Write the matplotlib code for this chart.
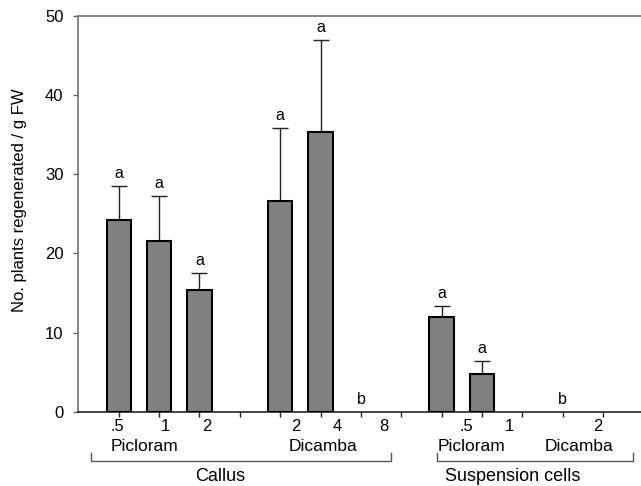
import matplotlib
matplotlib.use('Agg')
import matplotlib.pyplot as plt
import matplotlib.transforms as mtransforms

plt.rcParams['font.family'] = ['Liberation Sans', 'DejaVu Sans']

# bar slots along the x axis (one tick per slot)
slots = [1, 2, 3, 5, 6, 7, 9, 10, 12]
means = [24.2, 21.6, 15.4, 26.6, 35.3, 0.0, 12.0, 4.8, 0.0]
errs = [4.3, 5.7, 2.1, 9.3, 11.7, 0.0, 1.4, 1.6, 0.0]
letters = ['a', 'a', 'a', 'a', 'a', 'b', 'a', 'a', 'b']

conc_labels = ['.5', '1', '2', '2', '4', '8', '.5', '1', '2']
conc_pos = [0.96, 2.15, 3.18, 5.39, 6.42, 7.56, 9.61, 10.68, 12.87]
auxin_labels = ['Picloram', 'Dicamba', 'Picloram', 'Dicamba']
auxin_pos = [1.64, 6.06, 9.75, 12.4]
groups = ['Callus', 'Suspension cells']
group_pos = [3.51, 10.77]
group_span = [(0.31, 7.75), (8.89, 13.74)]

fig = plt.figure(figsize=(6.41, 4.86), dpi=100)
ax = fig.add_axes([0.1222, 0.1529, 0.8778, 0.8142])

# zero values show only their letter
nz = [i for i, m in enumerate(means) if m > 0]
ax.bar([slots[i] for i in nz], [means[i] for i in nz], width=0.6, color='#808080',
       edgecolor='black', linewidth=1.5, zorder=3)
for x, m, e in zip(slots, means, errs):
    if e > 0:
        ax.errorbar(x, m, yerr=[[0], [e]], fmt='none', ecolor='#222222',
                    elinewidth=1.0, capsize=6, capthick=1.0, zorder=2)
for x, m, e, s in zip(slots, means, errs, letters):
    ax.annotate(s, (x, m + e), xytext=(0, 3.5), textcoords='offset points',
                ha='center', va='bottom', fontsize=11.5)

ax.set_xlim(0, 13.94)
ax.set_ylim(0, 50)
ax.set_yticks(range(0, 51, 10))
ax.set_xticks(range(1, 14))
ax.set_xticklabels([])
ax.tick_params(axis='y', direction='out', length=3.6, width=1, color='#666666',
               labelsize=12, pad=7)
ax.tick_params(axis='x', direction='out', length=3.6, width=1, color='#222222')

ax.spines['left'].set_color('#666666')
ax.spines['top'].set_color('#666666')
ax.spines['bottom'].set_color('#111111')
for sp in ['left', 'top', 'bottom']:
    ax.spines[sp].set_linewidth(1.1)
ax.spines['right'].set_visible(False)

trans = mtransforms.blended_transform_factory(ax.transData, ax.transAxes)
for lab, x in zip(conc_labels, conc_pos):
    ax.text(x, -0.038, lab, transform=trans, ha='center', va='center', fontsize=12)
for lab, x in zip(auxin_labels, auxin_pos):
    ax.text(x, -0.088, lab, transform=trans, ha='center', va='center', fontsize=12.5)
for (x0, x1) in group_span:
    ax.plot([x0, x0, x1, x1], [-0.104, -0.1246, -0.1246, -0.104], transform=trans,
            color='#555555', lw=1.0, clip_on=False)
for lab, x in zip(groups, group_pos):
    ax.text(x, -0.164, lab, transform=trans, ha='center', va='center', fontsize=13)

fig.text(0.031, 0.588, 'No. plants regenerated / g FW', rotation=90,
         ha='center', va='center', fontsize=12)

plt.savefig('out.png', dpi=100)
plt.close()
